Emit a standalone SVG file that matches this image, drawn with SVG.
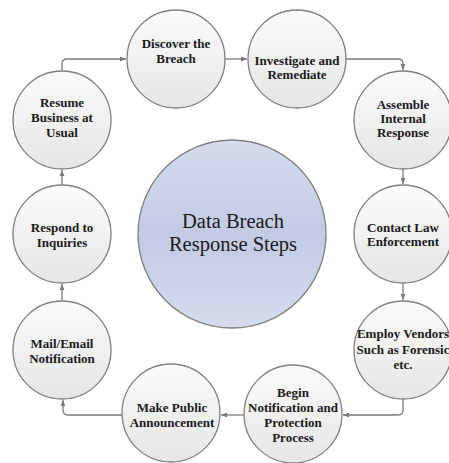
<svg xmlns="http://www.w3.org/2000/svg" width="449" height="463" viewBox="0 0 449 463">
  <defs>
    <linearGradient id="stepFill" x1="0" y1="0" x2="0" y2="1">
      <stop offset="0" stop-color="#fbfbfb"/>
      <stop offset="1" stop-color="#e6e6e6"/>
    </linearGradient>
    <linearGradient id="hubFill" x1="0" y1="0" x2="0" y2="1">
      <stop offset="0" stop-color="#d6dbee"/>
      <stop offset="0.5" stop-color="#c3cbe5"/>
      <stop offset="1" stop-color="#d6dbee"/>
    </linearGradient>
    <marker id="arrow" viewBox="0 0 10 10" refX="10" refY="5" markerWidth="6" markerHeight="6" markerUnits="userSpaceOnUse" orient="auto">
      <path d="M0,1 L10,5 L0,9 Z" fill="#7a7a7a"/>
    </marker>
    <style>
      .step { fill: url(#stepFill); stroke: #7f7f7f; stroke-width: 1.3; }
      .hub { fill: url(#hubFill); stroke: #7f7f7f; stroke-width: 1.3; }
      .label { font-family: "Liberation Serif", "DejaVu Serif", serif; font-weight: bold; font-size: 13px; fill: #1a1a1a; text-anchor: middle; }
      .title { font-family: "Liberation Serif", "DejaVu Serif", serif; font-size: 20.5px; fill: #1a1a1a; text-anchor: middle; }
      .link { fill: none; stroke: #7a7a7a; stroke-width: 1.3; marker-end: url(#arrow); }
    </style>
  </defs>

  <rect width="449" height="463" fill="#ffffff"/>

  <g id="connectors">
    <path class="link" d="M62,70 V64 Q62,59 67,59 H126"/>
    <path class="link" d="M225,59 H247"/>
    <path class="link" d="M346,59 H398 Q403,59 403,64 V70"/>
    <path class="link" d="M403,169 V184"/>
    <path class="link" d="M403,283 V300"/>
    <path class="link" d="M403,399 V410 Q403,415 398,415 H343"/>
    <path class="link" d="M244,415 H221"/>
    <path class="link" d="M122,415 H68 Q63,415 63,410 V400"/>
    <path class="link" d="M62,300 V284"/>
    <path class="link" d="M62,185 V170"/>
  </g>

  <g id="hub">
    <circle class="hub" cx="232" cy="234" r="94"/>
    <text class="title" x="233" y="228">Data Breach</text>
    <text class="title" x="233" y="251">Response Steps</text>
  </g>

  <g id="discover">
    <circle class="step" cx="176" cy="59" r="49"/>
    <text class="label" x="176" y="48">Discover the</text>
    <text class="label" x="176" y="63">Breach</text>
  </g>

  <g id="investigate">
    <circle class="step" cx="297" cy="59" r="49"/>
    <text class="label" x="297" y="65">Investigate and</text>
    <text class="label" x="297" y="79">Remediate</text>
  </g>

  <g id="assemble">
    <circle class="step" cx="403" cy="120" r="49"/>
    <text class="label" x="403" y="108.5">Assemble</text>
    <text class="label" x="403" y="122.5">Internal</text>
    <text class="label" x="403" y="136.5">Response</text>
  </g>

  <g id="contact">
    <circle class="step" cx="403" cy="234" r="49"/>
    <text class="label" x="403" y="231.5">Contact Law</text>
    <text class="label" x="403" y="246">Enforcement</text>
  </g>

  <g id="vendors">
    <circle class="step" cx="403" cy="350" r="49"/>
    <text class="label" x="403" y="338">Employ Vendors</text>
    <text class="label" x="403" y="354">Such as Forensic</text>
    <text class="label" x="403" y="369">etc.</text>
  </g>

  <g id="notification">
    <circle class="step" cx="293" cy="414" r="49"/>
    <text class="label" x="293" y="397">Begin</text>
    <text class="label" x="293" y="412">Notification and</text>
    <text class="label" x="293" y="427">Protection</text>
    <text class="label" x="293" y="441.5">Process</text>
  </g>

  <g id="announcement">
    <circle class="step" cx="171" cy="413" r="49"/>
    <text class="label" x="172" y="412">Make Public</text>
    <text class="label" x="172" y="427">Announcement</text>
  </g>

  <g id="mail">
    <circle class="step" cx="62" cy="350" r="49"/>
    <text class="label" x="62" y="348">Mail/Email</text>
    <text class="label" x="62" y="363">Notification</text>
  </g>

  <g id="inquiries">
    <circle class="step" cx="62" cy="234" r="49"/>
    <text class="label" x="62" y="232">Respond to</text>
    <text class="label" x="62" y="246.5">Inquiries</text>
  </g>

  <g id="resume">
    <circle class="step" cx="62" cy="120" r="49"/>
    <text class="label" x="62" y="107">Resume</text>
    <text class="label" x="62" y="122">Business at</text>
    <text class="label" x="62" y="137">Usual</text>
  </g>
</svg>
